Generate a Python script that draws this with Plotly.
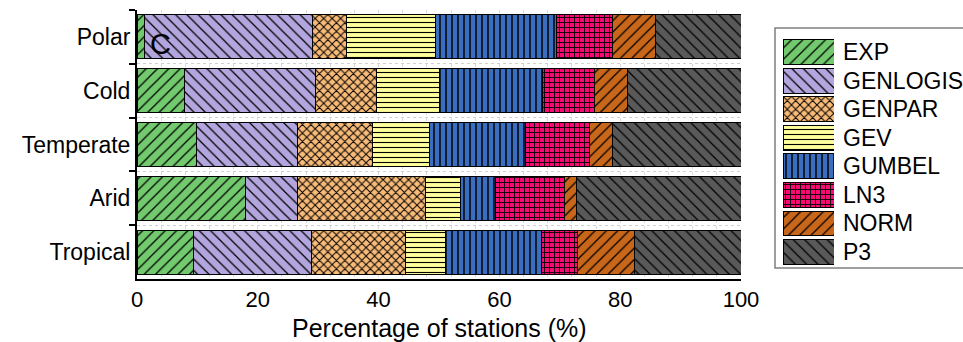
import plotly.graph_objects as go

# Climate zones (top to bottom) and best-fit distributions
zones = ["Polar", "Cold", "Temperate", "Arid", "Tropical"]
dists = ["EXP", "GENLOGIS", "GENPAR", "GEV", "GUMBEL", "LN3", "NORM", "P3"]

# Percentage of stations per distribution, one list per distribution (order follows `zones`)
exp_pct      = [1.3, 7.9, 9.8, 18.0, 9.3]
genlogis_pct = [27.7, 21.7, 16.7, 8.5, 19.6]
genpar_pct   = [5.7, 10.1, 12.5, 21.3, 15.5]
gev_pct      = [14.8, 10.3, 9.5, 5.7, 6.6]
gumbel_pct   = [20.0, 17.2, 15.9, 5.8, 16.0]
ln3_pct      = [9.2, 8.5, 10.5, 11.4, 5.9]
norm_pct     = [7.1, 5.5, 3.9, 2.1, 9.4]
p3_pct       = [14.2, 18.8, 21.2, 27.2, 17.7]

values = [exp_pct, genlogis_pct, genpar_pct, gev_pct, gumbel_pct, ln3_pct, norm_pct, p3_pct]

colors = ["#72c96e", "#b3a6de", "#f8bb78", "#ffff9c", "#3b6ebf", "#f60a74", "#c8661a", "#595959"]
shapes = ["/", "\\", "x", "-", "|", "+", "/", "\\"]
sizes = [8, 8, 6, 5, 6, 5, 8, 8]
solid = [0.16, 0.16, 0.3, 0.22, 0.24, 0.32, 0.16, 0.16]

FONT = "Arial, Liberation Sans, sans-serif"
LABEL_SIZE = 23
TICK_SIZE = 22
TITLE_SIZE = 25
W, H = 963, 342
ML, MT, MB = 137, 10, 63
PW = W - ML          # paper width in px
PH = H - MT - MB     # paper height in px


def px_x(p):
    return (p - ML) / PW


def px_y(p):
    return (H - MB - p) / PH


def style(i):
    return dict(
        color=colors[i],
        line=dict(color="black", width=1),
        pattern=dict(shape=shapes[i], fgcolor="black", bgcolor=colors[i],
                     size=sizes[i], solidity=solid[i], fillmode="replace"),
    )


fig = go.Figure()

# stacked horizontal bars
for i, name in enumerate(dists):
    fig.add_trace(go.Bar(
        y=zones, x=values[i], orientation="h", name=name,
        marker=style(i), showlegend=False, hoverinfo="x+name",
    ))

# legend drawn as a small bar panel so the swatches carry the fill patterns
for i, name in enumerate(dists):
    fig.add_trace(go.Bar(
        y=[name], x=[1], orientation="h", xaxis="x2", yaxis="y2",
        marker=style(i), showlegend=False, hoverinfo="skip", width=0.87,
    ))

x_dom = [0, px_x(741)]
tick_common = dict(
    overlaying="x", anchor="y", domain=x_dom, range=[0, 100], tick0=0, dtick=4,
    tickwidth=2, tickcolor="black",
    showticklabels=False, showgrid=False, showline=False, zeroline=False,
)
fig.update_layout(
    width=W, height=H,
    margin=dict(l=ML, r=0, t=MT, b=MB, autoexpand=False),
    showlegend=False,
    barmode="stack", bargap=0.185,
    plot_bgcolor="white", paper_bgcolor="white",
    font=dict(family=FONT, size=LABEL_SIZE, color="black"),
    # labelled x axis; its tick marks come from the two overlay axes below
    xaxis=dict(
        domain=x_dom, range=[0, 100], dtick=20, tick0=0, ticks="",
        showline=True, linecolor="black", linewidth=2,
        showgrid=True, gridcolor="#d9d9d9", griddash="dot", gridwidth=1,
        minor=dict(dtick=4, tick0=0, ticks="", showgrid=True, gridcolor="#d9d9d9",
                   griddash="dot", gridwidth=1),
        zeroline=False, automargin=False,
        tickfont=dict(size=TICK_SIZE),
    ),
    yaxis=dict(
        categoryorder="array", categoryarray=zones, autorange="reversed",
        tickson="boundaries", ticks="outside", ticklen=6, tickwidth=2, tickcolor="black",
        showline=True, linecolor="black", linewidth=2,
        showgrid=True, gridcolor="#d0d0d0", griddash="dot", gridwidth=1,
        zeroline=False, automargin=False, tickfont=dict(size=LABEL_SIZE),
    ),
    # crossing tick marks: inner and outer halves
    xaxis3=dict(ticks="inside", ticklen=3, **tick_common),
    xaxis4=dict(ticks="outside", ticklen=7, **tick_common),
    yaxis3=dict(
        overlaying="y", anchor="x", range=[4.5, -0.5], tick0=-0.5, dtick=1,
        ticks="inside", ticklen=6, tickwidth=2, tickcolor="black",
        showticklabels=False, showgrid=False, showline=False, zeroline=False,
    ),
    # legend panel
    xaxis2=dict(
        domain=[px_x(783), px_x(834)], anchor="y2", range=[0, 1],
        visible=False, fixedrange=True, automargin=False,
    ),
    yaxis2=dict(
        domain=[px_y(267), px_y(37)], anchor="x2",
        categoryorder="array", categoryarray=dists, autorange="reversed",
        visible=False, fixedrange=True, automargin=False,
    ),
    shapes=[dict(
        type="rect", xref="paper", yref="paper",
        x0=px_x(775), x1=1.02, y0=px_y(268), y1=px_y(28),
        line=dict(color="#7f7f7f", width=1.5), fillcolor="rgba(0,0,0,0)",
        layer="below",
    )],
)

annotations = [
    dict(text=name, xref="paper", yref="y2", x=px_x(841), y=name,
         xanchor="left", yanchor="middle", showarrow=False,
         font=dict(size=LABEL_SIZE, family=FONT, color="black"))
    for name in dists
]
# x-axis title, centred under the bar panel
annotations.append(dict(
    text="Percentage of stations (%)", xref="x domain", yref="paper",
    x=0.5, y=px_y(344), xanchor="center", yanchor="bottom", showarrow=False,
    font=dict(size=TITLE_SIZE, family=FONT, color="black"),
))
annotations.append(dict(
    text="C", xref="x domain", yref="y domain", x=(160.5 - ML) / (741 - ML),
    y=px_y(44), xanchor="center", yanchor="middle", showarrow=False,
    font=dict(size=29, family=FONT, color="black"),
))
fig.update_layout(annotations=annotations)

fig.write_html("out.html")
